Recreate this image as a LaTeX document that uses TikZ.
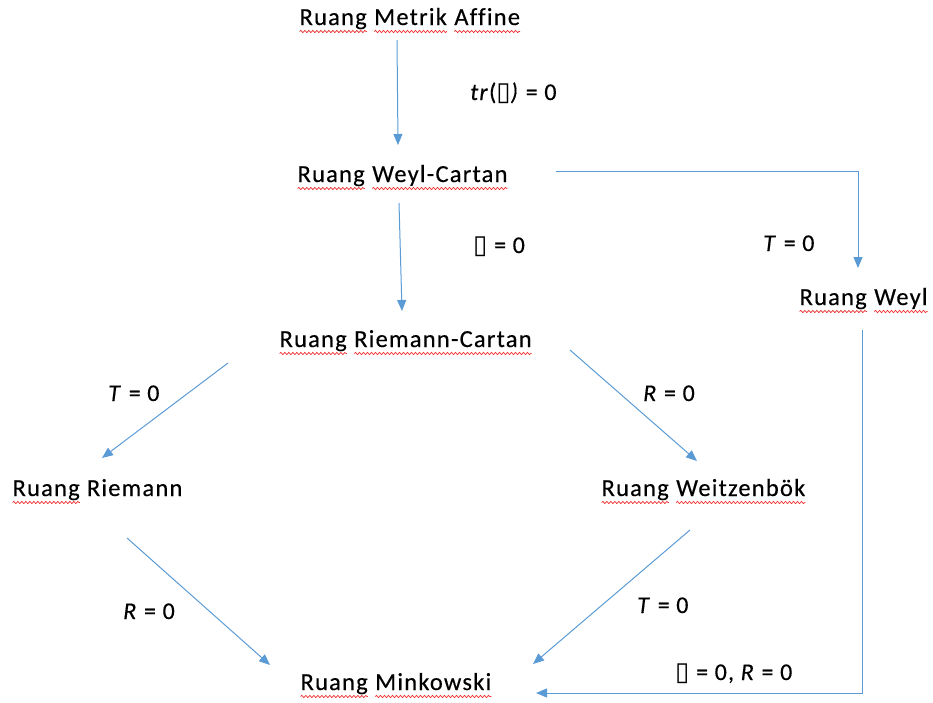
\documentclass[tikz,border=0pt]{standalone}
\usepackage{fontspec}
\setmainfont{Carlito}[LetterSpace=5, Ligatures=NoCommon, FakeBold=0.35]
\newfontfamily\symfont{DejaVu Sans}
\usetikzlibrary{arrows.meta,decorations.pathmorphing}
\definecolor{arrowblue}{HTML}{5B9BD5}
\definecolor{squigred}{HTML}{F03030}
\tikzset{squig/.style={draw=squigred, line width=0.7pt, decorate,
  decoration={snake, amplitude=1.1pt, segment length=4pt}}}
\newcommand\rw[1]{\tikz[baseline=(w.base)]{\node[inner sep=0pt,outer sep=0pt] (w) {#1};
  \draw[squig] ([yshift=-6.5pt]w.base west) -- ([yshift=-6.5pt]w.base east);}}
\newcommand\tofu{{\symfont\fontsize{26}{28}\selectfont ▯}}
\begin{document}
\begin{tikzpicture}[x=1pt,y=-1pt,
  lbl/.style={inner sep=0pt, anchor=base west, text height=16pt, text depth=5pt,
    font=\fontsize{24.5}{28}\selectfont},
  cond/.style={inner sep=0pt, anchor=base west, font=\fontsize{24}{28}\selectfont},
  arr/.style={draw=arrowblue, line width=1pt,
    -{Triangle[length=11pt,width=9pt]}}]
\useasboundingbox (0,0) rectangle (933,702);
% main nodes
\node[lbl] (ma)   at (299,25)  {\rw{Ruang} \rw{Metrik} \rw{Affine}};
\node[lbl] (wc)   at (297,182) {\rw{Ruang} \rw{Weyl-Cartan}};
\node[lbl] (rc)   at (279,347) {\rw{Ruang} \rw{Riemann-Cartan}};
\node[lbl] (weyl) at (799,305) {\rw{Ruang} \rw{Weyl}};
\node[lbl] (rie)  at (12,496)  {\rw{Ruang} Riemann};
\node[lbl] (wb)   at (601,496) {\rw{Ruang} \rw{Weitzenbök}};
\node[lbl] (mk)   at (300,690) {\rw{Ruang} \rw{Minkowski}};
% condition labels
\node[cond] (c1) at (470,100) {\textit{tr}(\tofu\textit{)} = 0};
\node[cond] (c2) at (473,253) {\tofu{} = 0};
\node[cond] (c3) at (763,251) {\textit{T} = 0};
\node[cond] (c4) at (108,401) {\textit{T} = 0};
\node[cond] (c5) at (643,401) {\textit{R} = 0};
\node[cond] (c6) at (123,619) {\textit{R} = 0};
\node[cond] (c7) at (637,613) {\textit{T} = 0};
\node[cond] (c8) at (675,680) {\tofu{} = 0, \textit{R} = 0};
% connectors
\draw[arr] ([xshift=98pt,yshift=-15pt]ma.base west) -- ([xshift=101pt,yshift=37pt]wc.base west);
\draw[arr] ([xshift=102pt,yshift=-21pt]wc.base west) -- ([xshift=123pt,yshift=36pt]rc.base west);
\draw[arr] ([xshift=259pt,yshift=11pt]wc.base west) -| ([xshift=59pt,yshift=37pt]weyl.base west);
\draw[arr] ([xshift=-51pt,yshift=-16pt]rc.base west) -- ([xshift=90pt,yshift=38pt]rie.base west);
\draw[arr] ([xshift=291pt,yshift=-3pt]rc.base west) -- ([xshift=96pt,yshift=35pt]wb.base west);
\draw[arr] ([xshift=115pt,yshift=-42pt]rie.base west) -- ([xshift=-30pt,yshift=25pt]mk.base west);
\draw[arr] ([xshift=89pt,yshift=-34pt]wb.base west) -- ([xshift=233pt,yshift=26pt]mk.base west);
\draw[arr] ([xshift=63pt,yshift=-25pt]weyl.base west) |- ([xshift=236pt,yshift=-3pt]mk.base west);
\end{tikzpicture}
\end{document}
